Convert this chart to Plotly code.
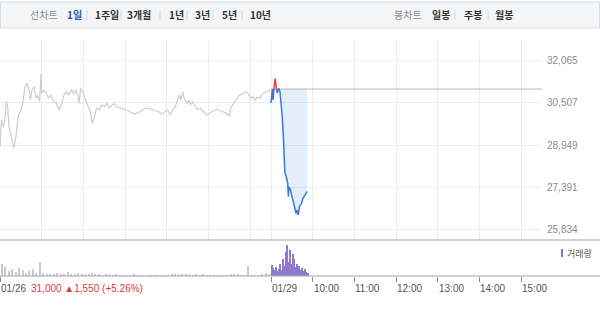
import plotly.graph_objects as go

# ---------------- data ----------------
day_offset = {"01/26": 0.0, "01/29": 6.5}
session_end = "15:30"
prev_close = 31000

prev_times = ["09:00","09:02","09:05","09:07","09:09","09:11","09:13","09:17","09:20","09:23","09:26","09:30",
              "09:33","09:36","09:39","09:42","09:44","09:46","09:49","09:52","09:54","09:57","09:59","10:00",
              "10:03","10:07","10:10","10:13","10:17","10:21","10:25","10:29","10:32","10:36","10:39","10:43",
              "10:46","10:49","10:52","10:54","10:56","10:59","11:02","11:06","11:10","11:13","11:16","11:19",
              "11:23","11:26","11:30","11:34","11:37","11:41","11:44","11:48","11:53","11:58","12:05","12:09",
              "12:14","12:19","12:24","12:29","12:33","12:38","12:43","12:48","12:53","12:57","13:01","13:05",
              "13:08","13:12","13:15","13:18","13:20","13:23","13:25","13:29","13:32","13:34","13:37","13:41",
              "13:44","13:48","13:52","13:55","13:58","14:02","14:07","14:12","14:17","14:21","14:26","14:30",
              "14:32","14:36","14:40","14:43","14:46","14:50","14:54","14:57","15:01","15:04","15:07","15:10",
              "15:14","15:19","15:24","15:29"]
prev_prices = [28887,29866,29620,29866,30537,30353,29620,29133,28829,29254,29987,30232,
               30537,31086,31211,30965,30599,30965,31086,30661,30782,30537,31578,30845,
               30965,30845,30661,30782,30537,30478,30232,30478,30782,30903,30782,30965,
               30845,30965,30782,30478,31028,30903,30661,30416,30170,29745,29987,30295,
               30232,30416,30353,30478,30295,30416,30478,30353,30317,30258,30207,30134,
               30086,30134,30207,30295,30295,30258,30232,30170,30086,30170,30232,30049,
               30207,30353,30599,30782,30599,30903,30661,30478,30599,30416,30537,30353,
               30232,30295,30170,30112,30049,30134,30207,30258,30207,30170,30112,30013,
               30295,30478,30599,30746,30782,30845,30903,30845,30661,30720,30599,30698,
               30661,30845,30903,30950]

today_times = ["09:00","09:02","09:03","09:04","09:06","09:08","09:09","09:11","09:13","09:14","09:16","09:18",
               "09:19","09:20","09:22","09:24","09:25","09:26","09:28","09:31","09:33","09:36","09:37","09:39",
               "09:41","09:44","09:46","09:50","09:52"]
today_prices = [30489,31000,30599,30965,31394,30965,30856,31028,30903,30599,30049,29133,
                28400,27924,27788,27557,27055,27421,27301,26934,26689,26447,26568,26384,
                26689,26813,26996,27154,27238]

# volume (5-minute buckets on 01/26, 2-minute buckets on 01/29)
prev_vol_times = ["09:00","09:05","09:10","09:15","09:20","09:25","09:30","09:35","09:40","09:45","09:50","09:55",
                  "10:00","10:05","10:10","10:15","10:20","10:25","10:30","10:35","10:40","10:45","10:50","10:55",
                  "11:00","11:05","11:10","11:15","11:20","11:25","11:30","11:35","11:40","11:45","11:50","11:55",
                  "12:00","12:05","12:10","12:15","12:20","12:25","12:30","12:35","12:40","12:45","12:50","12:55",
                  "13:00","13:05","13:10","13:15","13:20","13:25","13:30","13:35","13:40","13:45","13:50","13:55",
                  "14:00","14:05","14:10","14:15","14:20","14:25","14:30","14:35","14:40","14:45","14:50","14:55",
                  "15:00","15:05","15:10","15:15","15:20","15:25"]
prev_volume = [12000,9000,5000,7000,4000,8000,6000,3000,5000,7000,3000,14000,
               3000,2000,2500,2000,3000,1500,2000,4000,1500,2000,3000,2000,
               2500,1500,3500,2000,1200,1000,1200,1500,1000,1200,800,1000,
               700,900,1100,800,1000,700,600,800,700,900,600,800,
               1000,1200,1500,2000,1500,1800,1200,1000,1400,900,1100,800,
               1000,700,900,800,600,900,1500,1200,1300,1000,900,10000,
               800,700,900,2500,3000,1500]
today_vol_times = ["09:00","09:02","09:04","09:06","09:08","09:10","09:12","09:14","09:16","09:18","09:20","09:22",
                   "09:24","09:26","09:28","09:30","09:32","09:34","09:36","09:38","09:40","09:42","09:44","09:46",
                   "09:48","09:50","09:52"]
today_volume = [11000,8000,6000,9000,5000,7000,12000,6000,17000,10000,24000,31000,
                14000,26000,12000,22000,17000,9000,12000,8000,10000,6000,8000,5000,
                7000,4000,3000]

price_ticks = [32065, 30507, 28949, 27391, 25834]

grid_days = ["01/26"]*6 + ["01/29"]*7
grid_times = ["10:00","11:00","12:00","13:00","14:00","15:00",
              "09:00","10:00","11:00","12:00","13:00","14:00","15:00"]

tick_days = ["01/26","01/29","01/29","01/29","01/29","01/29","01/29","01/29"]
tick_times = ["09:00","09:00","10:00","11:00","12:00","13:00","14:00","15:00"]
tick_texts = ["01/26","01/29","10:00","11:00","12:00","13:00","14:00","15:00"]

change_text = "31,000 ▲1,550 (+5.26%)"
tabs_left_label = "선차트"
tabs_left = ["1일","1주일","3개월","1년","3년","5년","10년"]
tabs_right_label = "봉차트"
tabs_right = ["일봉","주봉","월봉"]
volume_label = "거래량"

# ---------------- helpers ----------------
def hx(day, hhmm):
    h, m = map(int, hhmm.split(":"))
    return day_offset[day] + (h - 9) + m / 60.0

def split_base(xs, ys, base):
    ax, ay, bx, by = [], [], [], []
    for i in range(len(xs)):
        if i > 0:
            y0, y1 = ys[i-1], ys[i]
            if (y0 - base) * (y1 - base) < 0:
                t = (base - y0) / (y1 - y0)
                xc = xs[i-1] + t * (xs[i] - xs[i-1])
                ax.append(xc); ay.append(base)
                bx.append(xc); by.append(base)
        y = ys[i]
        ax.append(xs[i]); ay.append(y if y >= base else None)
        bx.append(xs[i]); by.append(y if y <= base else None)
    return ax, ay, bx, by

W, H = 600, 311
def fx(p): return p / W
def fy(p): return 1 - p / H

x_end = hx("01/29", session_end)
plot_right = fx(542)

px_prev = [hx("01/26", t) for t in prev_times]
px_today = [hx("01/29", t) for t in today_times]
up_x, up_y, dn_x, dn_y = split_base(px_today, today_prices, prev_close)

FONT = "Liberation Sans, Noto Sans CJK KR, sans-serif"
KFONT = "Noto Sans CJK KR, sans-serif"

fig = go.Figure()

# fill between today's line and previous close
fig.add_trace(go.Scatter(x=px_today, y=[prev_close]*len(px_today), mode="lines",
                         line=dict(width=0), hoverinfo="skip", showlegend=False))
fig.add_trace(go.Scatter(x=px_today, y=today_prices, mode="lines", line=dict(width=0),
                         fill="tonexty", fillcolor="rgba(130,172,232,0.22)",
                         hoverinfo="skip", showlegend=False))
# previous close reference line
fig.add_trace(go.Scatter(x=[hx("01/29", "09:00"), x_end], y=[prev_close, prev_close], mode="lines",
                         line=dict(color="#b9b9b9", width=1), showlegend=False))
# previous day line
fig.add_trace(go.Scatter(x=px_prev, y=prev_prices, mode="lines",
                         line=dict(color="#cdcdcd", width=1.2), showlegend=False))
# today's line
fig.add_trace(go.Scatter(x=dn_x, y=dn_y, mode="lines", connectgaps=False,
                         line=dict(color="#3b78d6", width=1.5), showlegend=False))
fig.add_trace(go.Scatter(x=up_x, y=up_y, mode="lines", connectgaps=False,
                         line=dict(color="#e8403a", width=1.5), showlegend=False))

# volume bars
fig.add_trace(go.Bar(x=[hx("01/26", t) + 2.5/60 for t in prev_vol_times], y=prev_volume,
                     width=0.028, marker=dict(color="#c9c9c9", line=dict(width=0)),
                     xaxis="x2", yaxis="y2", showlegend=False))
fig.add_trace(go.Bar(x=[hx("01/29", t) + 1/60 for t in today_vol_times], y=today_volume,
                     width=0.026, marker=dict(color="#9179cc", line=dict(width=0)),
                     xaxis="x2", yaxis="y2", showlegend=False))

shapes = []
annotations = []

# top bar
shapes.append(dict(type="rect", xref="paper", yref="paper", x0=fx(0.5), x1=fx(599.5), y0=fy(28), y1=fy(2),
                   fillcolor="#f4f5f7", line=dict(color="#dadce0", width=1), layer="below"))
left_pos = [65, 93, 125, 167, 193, 220, 248]
right_pos = [430, 462, 493]
TAB_SIZE = 10
for txt, xp in zip(tabs_left, left_pos):
    col = "#2b55b0" if txt == "1일" else "#333333"
    annotations.append(dict(text="<b>%s</b>" % txt, x=fx(xp), y=fy(15), xref="paper", yref="paper",
                            xanchor="left", yanchor="middle", showarrow=False,
                            font=dict(family=KFONT, size=TAB_SIZE, color=col)))
for txt, xp in zip(tabs_right, right_pos):
    annotations.append(dict(text="<b>%s</b>" % txt, x=fx(xp), y=fy(15), xref="paper", yref="paper",
                            xanchor="left", yanchor="middle", showarrow=False,
                            font=dict(family=KFONT, size=TAB_SIZE, color="#333333")))
annotations.append(dict(text=tabs_left_label, x=fx(28), y=fy(15), xref="paper", yref="paper",
                        xanchor="left", yanchor="middle", showarrow=False,
                        font=dict(family=KFONT, size=TAB_SIZE, color="#8a8a8a")))
annotations.append(dict(text=tabs_right_label, x=fx(392), y=fy(15), xref="paper", yref="paper",
                        xanchor="left", yanchor="middle", showarrow=False,
                        font=dict(family=KFONT, size=TAB_SIZE, color="#8a8a8a")))
for sx in [87, 121, 160, 187, 213, 242, 455, 488]:
    shapes.append(dict(type="line", xref="paper", yref="paper", x0=fx(sx), x1=fx(sx), y0=fy(20), y1=fy(10),
                       line=dict(color="#d6d6d6", width=1)))

# panel separators
shapes.append(dict(type="line", xref="paper", yref="paper", x0=0, x1=1, y0=fy(240), y1=fy(240),
                   line=dict(color="#a5a5a5", width=1)))
shapes.append(dict(type="line", xref="paper", yref="paper", x0=0, x1=1, y0=fy(276), y1=fy(276),
                   line=dict(color="#a5a5a5", width=1)))

# volume legend
shapes.append(dict(type="rect", xref="paper", yref="paper", x0=fx(561), x1=fx(563), y0=fy(257), y1=fy(249),
                   fillcolor="#8a72c6", line=dict(width=0)))
annotations.append(dict(text=volume_label, x=fx(565), y=fy(253), xref="paper", yref="paper",
                        xanchor="left", yanchor="middle", showarrow=False,
                        font=dict(family=KFONT, size=9, color="#555555")))

# bottom tick labels
for d, t, txt in zip(tick_days, tick_times, tick_texts):
    annotations.append(dict(text=txt, x=hx(d, t), y=fy(288), xref="x2", yref="paper",
                            xanchor="left", yanchor="middle", showarrow=False, xshift=-1,
                            font=dict(family=FONT, size=10, color="#555555")))
annotations.append(dict(text=change_text, x=fx(29), y=fy(288), xref="paper", yref="paper",
                        xanchor="left", yanchor="middle", showarrow=False,
                        font=dict(family=FONT, size=10, color="#e0393a")))

grid_x = [hx(d, t) for d, t in zip(grid_days, grid_times)]
tick_x = [hx(d, t) for d, t in zip(tick_days, tick_times)]

fig.update_layout(
    width=W, height=H, margin=dict(l=0, r=0, t=0, b=0),
    paper_bgcolor="white", plot_bgcolor="white",
    font=dict(family=FONT, size=10, color="#888888"),
    showlegend=False, bargap=0,
    xaxis=dict(domain=[0, plot_right], range=[0, x_end], tickvals=grid_x, showticklabels=False,
               showgrid=True, gridcolor="#ededed", gridwidth=1, zeroline=False, showline=False,
               ticks="", anchor="y", fixedrange=True),
    yaxis=dict(domain=[fy(240), fy(40)], range=[25467, 32798], tickvals=price_ticks, tickformat=",d",
               side="right", showgrid=True, gridcolor="#ededed", gridwidth=1, zeroline=False,
               showline=False, ticks="", ticklabelstandoff=4,
               tickfont=dict(family=FONT, size=10, color="#8a8a8a"), anchor="x"),
    xaxis2=dict(domain=[0, plot_right], range=[0, x_end], matches="x", tickvals=tick_x,
                showticklabels=False, showgrid=False, zeroline=False, showline=False,
                ticks="outside", ticklen=5, tickcolor="#8a8a8a", tickwidth=1, anchor="y2"),
    yaxis2=dict(domain=[fy(276), fy(242)], range=[0, 34000], showticklabels=False, showgrid=False,
                zeroline=False, showline=False, ticks="", anchor="x2"),
    shapes=shapes, annotations=annotations,
)

fig.write_html("out.html")
